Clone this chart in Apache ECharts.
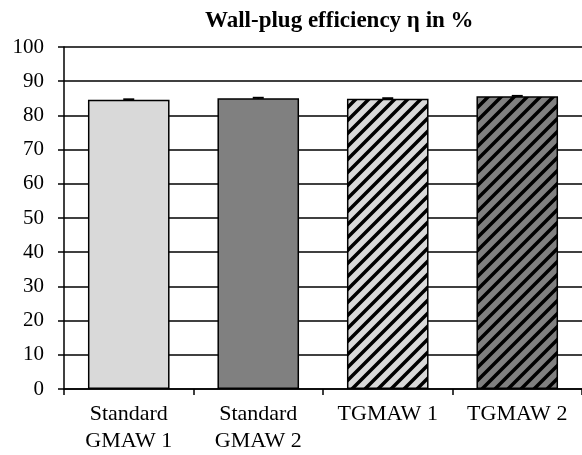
<!DOCTYPE html>
<html>
<head>
<meta charset="utf-8">
<script src="https://cdn.jsdelivr.net/npm/echarts@6/dist/echarts.min.js"></script>
<style>
html, body { margin: 0; padding: 0; background: #fff; }
#chart { width: 582px; height: 455px; }
</style>
</head>
<body>
<div id="chart"></div>
<script>
const categories = ['Standard\nGMAW 1', 'Standard\nGMAW 2', 'TGMAW 1', 'TGMAW 2']
const efficiency = [84.6, 85.0, 84.9, 85.6]
const errors = [0.1, 0.15, 0.12, 0.1]
const yTicks = { min: 0, max: 100, interval: 10 }

const font = '"Liberation Serif", "DejaVu Serif", serif'

// diagonal hatch tile, "/" direction
function hatch(bg) {
	const s = 13
	const c = document.createElement('canvas')
	c.width = s
	c.height = s
	const ctx = c.getContext('2d')
	ctx.fillStyle = bg
	ctx.fillRect(0, 0, s, s)
	ctx.strokeStyle = '#000'
	ctx.lineWidth = 3.5
	ctx.filter = 'blur(0.7px)'
	ctx.beginPath()
	for (let k = -1; k <= 1; k++) {
		ctx.moveTo(k * s - 2, s + 2)
		ctx.lineTo(k * s + s + 2, -2)
	}
	ctx.stroke()
	return { image: c, repeat: 'repeat' }
}

const fills = ['#d9d9d9', '#808080', hatch('#d9d9d9'), hatch('#808080')]

const chart = echarts.init(document.getElementById('chart'), null, { renderer: 'canvas' })

chart.setOption({
	animation: false,
	backgroundColor: '#fff',
	title: {
		text: 'Wall-plug efficiency η in %',
		left: 200,
		top: 5,
		textStyle: { fontFamily: font, fontWeight: 'bold', fontSize: 23, color: '#000' },
	},
	grid: { left: 64, right: -3, top: 47, bottom: 63 },
	xAxis: {
		type: 'category',
		data: categories,
		axisLine: { lineStyle: { color: '#000', width: 1.5 } },
		axisTick: { show: true, length: 6, lineStyle: { color: '#000', width: 1.5 } },
		axisLabel: {
			interval: 0,
			margin: 12,
			fontFamily: font,
			fontSize: 22,
			lineHeight: 27,
			color: '#000',
			verticalAlign: 'top',
		},
	},
	yAxis: {
		type: 'value',
		min: yTicks.min,
		max: yTicks.max,
		interval: yTicks.interval,
		axisLine: { show: true, lineStyle: { color: '#000', width: 1.5 } },
		axisTick: { show: true, length: 6, lineStyle: { color: '#000', width: 1.5 } },
		axisLabel: { fontFamily: font, fontSize: 21, color: '#000', margin: 20 },
		splitLine: { lineStyle: { color: '#000', width: 1.5 } },
	},
	series: [
		{
			type: 'bar',
			data: efficiency.map((v, i) => ({
				value: v,
				itemStyle: { color: fills[i] },
			})),
			barCategoryGap: '37%',
			itemStyle: { borderColor: '#000', borderWidth: 1.5 },
		},
		{
			type: 'custom',
			data: efficiency.map((v, i) => [i, v - errors[i], v + errors[i]]),
			renderItem: (params, api) => {
				const lo = api.coord([api.value(0), api.value(1)])
				const hi = api.coord([api.value(0), api.value(2)])
				const w = 5.5
				const style = { stroke: '#000', lineWidth: 2 }
				return {
					type: 'group',
					children: [
						{ type: 'line', shape: { x1: hi[0], y1: hi[1], x2: lo[0], y2: lo[1] }, style },
						{ type: 'line', shape: { x1: hi[0] - w, y1: hi[1], x2: hi[0] + w, y2: hi[1] }, style },
					],
				}
			},
			z: 5,
		},
	],
})
</script>
</body>
</html>
